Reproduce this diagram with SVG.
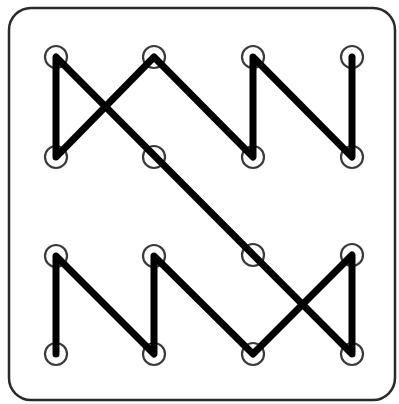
<svg xmlns="http://www.w3.org/2000/svg" width="399" height="404" viewBox="0 0 399 404">
<style>
.node circle{fill:#fff;stroke:#3a3a3a;stroke-width:2.2}
.conn{fill:none;stroke:#000;stroke-width:7;stroke-linecap:round;stroke-linejoin:round}
.frame{fill:#fff;stroke:#2a2a2a;stroke-width:2.5}
</style>
<rect class="frame" x="9" y="8" width="386" height="392" rx="22" ry="22"/>
<g id="nodes">
<g id="n00" class="node"><circle cx="56" cy="57" r="11"/></g>
<g id="n10" class="node"><circle cx="154" cy="57" r="11"/></g>
<g id="n20" class="node"><circle cx="253" cy="57" r="11"/></g>
<g id="n30" class="node"><circle cx="352" cy="57" r="11"/></g>
<g id="n01" class="node"><circle cx="56" cy="157" r="11"/></g>
<g id="n11" class="node"><circle cx="154" cy="157" r="11"/></g>
<g id="n21" class="node"><circle cx="253" cy="157" r="11"/></g>
<g id="n31" class="node"><circle cx="352" cy="157" r="11"/></g>
<g id="n02" class="node"><circle cx="56" cy="256" r="11"/></g>
<g id="n12" class="node"><circle cx="154" cy="256" r="11"/></g>
<g id="n22" class="node"><circle cx="253" cy="255" r="11"/></g>
<g id="n32" class="node"><circle cx="352" cy="255" r="11"/></g>
<g id="n03" class="node"><circle cx="56" cy="354" r="11"/></g>
<g id="n13" class="node"><circle cx="154" cy="354" r="11"/></g>
<g id="n23" class="node"><circle cx="253" cy="354" r="11"/></g>
<g id="n33" class="node"><circle cx="352" cy="354" r="11"/></g>
</g>
<g id="connectors">
<path class="conn" d="M56 354 L56 256 L154 354 L154 256 L253 354 L352 255 L352 354 L56 57 L56 157 L154 57 L253 157 L253 57 L352 157 L352 57"/>
</g>
</svg>
